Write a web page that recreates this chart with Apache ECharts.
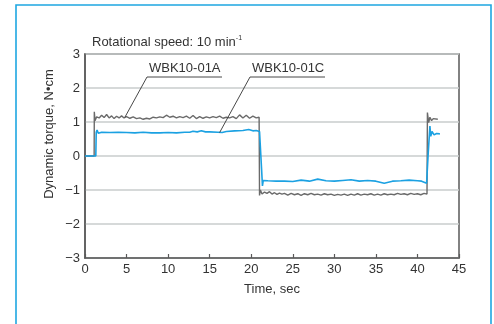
<!DOCTYPE html>
<html><head><meta charset="utf-8">
<script src="https://cdn.jsdelivr.net/npm/echarts@6/dist/echarts.min.js"></script>
<style>html,body{margin:0;padding:0;background:#fff}#c{width:494px;height:324px}</style>
</head><body><div id="c"></div>
<script>
// Series WBK10-01A (gray): [time sec, torque N·cm]
const seriesA = [
 [0,0],[1.1,0],[1.12,1.3],[1.2,1.04],[1.4,1.15],[1.7,1.12],[2.0,1.2],[2.3,1.13],[2.6,1.22],[2.9,1.12],
 [3.2,1.18],[3.5,1.1],[3.8,1.17],[4.1,1.12],[4.4,1.18],[4.7,1.12],[5.0,1.16],[5.4,1.11],[5.8,1.15],[6.2,1.1],
 [6.6,1.12],[7.0,1.08],[7.4,1.11],[7.8,1.09],[8.2,1.14],[8.6,1.12],[9.0,1.15],[9.4,1.13],[9.8,1.2],[10.2,1.14],
 [10.6,1.17],[11.0,1.12],[11.4,1.16],[11.8,1.13],[12.2,1.17],[12.6,1.11],[13.0,1.19],[13.4,1.1],[13.8,1.16],[14.2,1.11],
 [14.6,1.15],[15.0,1.12],[15.4,1.16],[15.8,1.13],[16.2,1.17],[16.6,1.11],[17.0,1.14],[17.4,1.12],[17.8,1.16],[18.2,1.1],
 [18.6,1.21],[19.0,1.12],[19.4,1.2],[19.8,1.11],[20.2,1.17],[20.6,1.12],[20.95,1.14],[21.0,-1.16],[21.1,-1.0],[21.3,-1.12],
 [21.6,-1.06],[21.9,-1.1],[22.2,-1.05],[22.5,-1.12],[22.8,-1.08],[23.1,-1.13],[23.4,-1.09],[23.7,-1.12],[24.0,-1.1],[24.4,-1.15],
 [24.8,-1.1],[25.2,-1.14],[25.6,-1.11],[26.0,-1.16],[26.4,-1.11],[26.8,-1.14],[27.2,-1.1],[27.6,-1.14],[28.0,-1.12],[28.4,-1.15],
 [28.8,-1.11],[29.2,-1.14],[29.6,-1.12],[30.0,-1.16],[30.4,-1.13],[30.8,-1.15],[31.2,-1.12],[31.6,-1.16],[32.0,-1.12],[32.4,-1.15],
 [32.8,-1.11],[33.2,-1.15],[33.6,-1.12],[34.0,-1.14],[34.4,-1.11],[34.8,-1.15],[35.2,-1.12],[35.6,-1.15],[36.0,-1.11],[36.4,-1.14],
 [36.8,-1.12],[37.2,-1.14],[37.6,-1.1],[38.0,-1.13],[38.4,-1.11],[38.8,-1.14],[39.2,-1.1],[39.6,-1.13],[40.0,-1.11],[40.4,-1.14],
 [40.8,-1.1],[41.15,-1.12],[41.2,1.28],[41.35,0.98],[41.5,1.14],[41.7,1.04],[41.9,1.1],[42.1,1.06],[42.45,1.08]
];
// Series WBK10-01C (blue)
const seriesC = [
 [0,0],[1.3,0],[1.35,0.7],[1.45,0.76],[1.6,0.67],[2.0,0.7],[3.0,0.69],[4.0,0.7],[5.0,0.69],[6.0,0.68],
 [7.0,0.7],[8.0,0.68],[9.0,0.68],[10.0,0.69],[11.0,0.68],[12.0,0.7],[12.6,0.7],[13.0,0.73],[13.5,0.71],[14.0,0.74],
 [14.5,0.71],[15.0,0.71],[16.0,0.7],[16.5,0.69],[17.0,0.72],[18.0,0.74],[19.0,0.75],[19.7,0.78],[20.2,0.74],[20.6,0.75],
 [21.0,0.72],[21.25,-0.4],[21.35,-0.88],[21.45,-0.72],[22.0,-0.73],[23.0,-0.74],[24.0,-0.74],[25.0,-0.75],[26.0,-0.71],[27.0,-0.74],
 [28.0,-0.68],[29.0,-0.73],[30.0,-0.74],[31.0,-0.72],[32.0,-0.7],[33.0,-0.74],[34.0,-0.72],[35.0,-0.74],[36.0,-0.8],[37.0,-0.74],
 [38.0,-0.73],[39.0,-0.71],[40.0,-0.73],[40.5,-0.74],[41.1,-0.8],[41.3,0.1],[41.5,0.88],[41.6,0.58],[41.75,0.72],[42.0,0.62],
 [42.3,0.66],[42.7,0.65]
];
const xTicks = [0,5,10,15,20,25,30,35,40,45];
const yTicks = [-3,-2,-1,0,1,2,3];
const labelA = 'WBK10-01A', labelC = 'WBK10-01C';
// annotation anchors on the curves [time, torque]
const anchorA = [4.8, 1.14], anchorC = [16.2, 0.69];

const chart = echarts.init(document.getElementById('c'), null, {renderer:'canvas'});
const FONT = 'Liberation Sans, Arial, sans-serif';
chart.setOption({
  animation:false,
  grid:{left:85,right:35,top:54,bottom:66,show:true,borderColor:'#5a5a5a',borderWidth:1.5,backgroundColor:'transparent'},
  xAxis:{type:'value',min:xTicks[0],max:xTicks[xTicks.length-1],interval:5,
    name:'Time, sec',nameLocation:'middle',nameGap:25,
    nameTextStyle:{color:'#333',fontSize:13,fontFamily:FONT},
    axisLine:{onZero:false,lineStyle:{color:'#5a5a5a',width:1.5}},
    axisTick:{inside:true,length:4,lineStyle:{color:'#5a5a5a',width:1.2}},
    axisLabel:{color:'#333',fontSize:13,fontFamily:FONT,margin:5},
    splitLine:{show:false}},
  yAxis:{type:'value',min:yTicks[0],max:yTicks[yTicks.length-1],interval:1,
    axisLine:{show:true,onZero:false,lineStyle:{color:'#5a5a5a',width:1.5}},
    axisTick:{show:false},
    axisLabel:{color:'#333',fontSize:13,fontFamily:FONT,margin:5,formatter:v=>String(v).replace('-','\u2212')},
    splitLine:{show:true,lineStyle:{color:'#c9cccc',width:1.5}}},
  series:[
    {type:'line',data:seriesA,showSymbol:false,lineStyle:{color:'#6a6a6a',width:1.4},z:3},
    {type:'line',data:seriesC,showSymbol:false,lineStyle:{color:'#1ba1e2',width:1.6},z:4}
  ]
});

function annot(label, anchor, tx){
  const p = chart.convertToPixel({gridIndex:0}, anchor);
  const ty = 76, w = 73;
  return [
    {type:'line',shape:{x1:tx-2,y1:ty+1,x2:p[0],y2:p[1]},style:{stroke:'#333',lineWidth:0.9},z:10},
    {type:'line',shape:{x1:tx-2,y1:ty+1,x2:tx+w,y2:ty+1},style:{stroke:'#333',lineWidth:0.9},z:10},
    {type:'text',x:tx,y:ty-1,style:{text:label,font:'13px '+FONT,fill:'#333',textVerticalAlign:'bottom'},z:10}
  ];
}
chart.setOption({graphic:[
  {type:'rect',shape:{x:16,y:5,width:475,height:340},style:{fill:'none',stroke:'#1ea7e1',lineWidth:1.6},z:0},
  {type:'text',x:92,y:42,style:{rich:{n:{font:'13px '+FONT,fill:'#333'},s:{font:'7px '+FONT,fill:'#333',verticalAlign:'top',padding:[0,0,8,0]}},
    text:'{n|Rotational speed: 10 min}{s|-1}',textVerticalAlign:'middle'},z:10},
  {type:'text',x:49,y:134,rotation:Math.PI/2,style:{text:'Dynamic torque, N\u2022cm',font:'13px '+FONT,fill:'#333',textAlign:'center',textVerticalAlign:'middle'},z:10},
  ...annot(labelA, anchorA, 149),
  ...annot(labelC, anchorC, 252)
]});
</script></body></html>
